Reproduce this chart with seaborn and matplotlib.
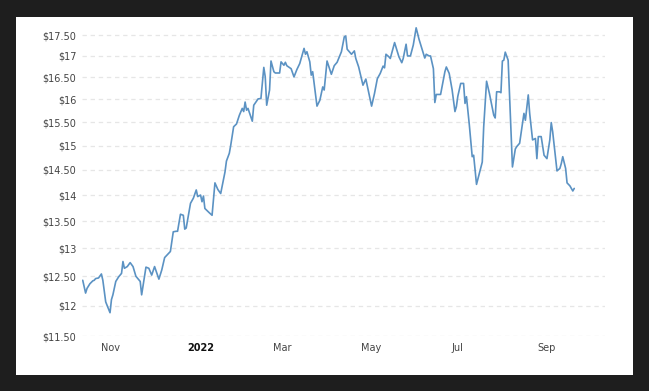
import datetime as dt
import matplotlib
matplotlib.use("Agg")
import matplotlib.pyplot as plt
import matplotlib.dates as mdates
from matplotlib.ticker import NullLocator
import pandas as pd
import seaborn as sns

dates = [
    "2021-10-13", "2021-10-15", "2021-10-16", "2021-10-18", "2021-10-20", "2021-10-21",
    "2021-10-22", "2021-10-24", "2021-10-26", "2021-10-27", "2021-10-29", "2021-11-01",
    "2021-11-02", "2021-11-03", "2021-11-05", "2021-11-07", "2021-11-09", "2021-11-10",
    "2021-11-11", "2021-11-13", "2021-11-15", "2021-11-17", "2021-11-19", "2021-11-22",
    "2021-11-23", "2021-11-26", "2021-11-28", "2021-11-30", "2021-12-02", "2021-12-05",
    "2021-12-07", "2021-12-09", "2021-12-13", "2021-12-15", "2021-12-17", "2021-12-18",
    "2021-12-20", "2021-12-22", "2021-12-23", "2021-12-24", "2021-12-27", "2021-12-29",
    "2021-12-31", "2022-01-01", "2022-01-03", "2022-01-04", "2022-01-05", "2022-01-06",
    "2022-01-09", "2022-01-11", "2022-01-13", "2022-01-15", "2022-01-17", "2022-01-20",
    "2022-01-21", "2022-01-23", "2022-01-24", "2022-01-26", "2022-01-28", "2022-01-30",
    "2022-02-01", "2022-02-02", "2022-02-03", "2022-02-04", "2022-02-05", "2022-02-08",
    "2022-02-09", "2022-02-12", "2022-02-14", "2022-02-16", "2022-02-17", "2022-02-18",
    "2022-02-20", "2022-02-21", "2022-02-23", "2022-02-24", "2022-02-27", "2022-02-28",
    "2022-03-02", "2022-03-03", "2022-03-04", "2022-03-07", "2022-03-09", "2022-03-11",
    "2022-03-13", "2022-03-16", "2022-03-17", "2022-03-18", "2022-03-20", "2022-03-21",
    "2022-03-22", "2022-03-25", "2022-03-27", "2022-03-29", "2022-03-30", "2022-04-01",
    "2022-04-04", "2022-04-06", "2022-04-08", "2022-04-11", "2022-04-13", "2022-04-14",
    "2022-04-15", "2022-04-18", "2022-04-20", "2022-04-21", "2022-04-23", "2022-04-26",
    "2022-04-28", "2022-05-02", "2022-05-04", "2022-05-06", "2022-05-08", "2022-05-10",
    "2022-05-11", "2022-05-12", "2022-05-14", "2022-05-15", "2022-05-18", "2022-05-21",
    "2022-05-23", "2022-05-24", "2022-05-26", "2022-05-27", "2022-05-29", "2022-05-31",
    "2022-06-02", "2022-06-04", "2022-06-07", "2022-06-08", "2022-06-09", "2022-06-11",
    "2022-06-12", "2022-06-14", "2022-06-15", "2022-06-16", "2022-06-19", "2022-06-22",
    "2022-06-23", "2022-06-25", "2022-06-27", "2022-06-29", "2022-06-30", "2022-07-01",
    "2022-07-03", "2022-07-05", "2022-07-06", "2022-07-07", "2022-07-09", "2022-07-11",
    "2022-07-12", "2022-07-14", "2022-07-18", "2022-07-19", "2022-07-21", "2022-07-23",
    "2022-07-26", "2022-07-27", "2022-07-28", "2022-07-30", "2022-07-31", "2022-08-01",
    "2022-08-02", "2022-08-03", "2022-08-05", "2022-08-08", "2022-08-10", "2022-08-11",
    "2022-08-13", "2022-08-14", "2022-08-16", "2022-08-17", "2022-08-19", "2022-08-20",
    "2022-08-22", "2022-08-24", "2022-08-25", "2022-08-26", "2022-08-28", "2022-08-30",
    "2022-09-01", "2022-09-03", "2022-09-04", "2022-09-05", "2022-09-08", "2022-09-10",
    "2022-09-11", "2022-09-12", "2022-09-14", "2022-09-15", "2022-09-17", "2022-09-19",
    "2022-09-20",
]

prices = [
    12.43, 12.21, 12.29, 12.37, 12.42, 12.43,
    12.46, 12.47, 12.54, 12.43, 12.06, 11.88,
    12.10, 12.18, 12.41, 12.49, 12.55, 12.76,
    12.64, 12.67, 12.74, 12.67, 12.50, 12.41,
    12.18, 12.66, 12.64, 12.52, 12.67, 12.45,
    12.61, 12.83, 12.94, 13.30, 13.31, 13.31,
    13.63, 13.61, 13.35, 13.37, 13.84, 13.94,
    14.10, 13.97, 14.00, 13.87, 13.98, 13.74,
    13.66, 13.61, 14.24, 14.11, 14.03, 14.46,
    14.68, 14.84, 15.01, 15.40, 15.46, 15.65,
    15.80, 15.73, 15.94, 15.76, 15.80, 15.52,
    15.87, 16.01, 16.02, 16.73, 16.51, 15.87,
    16.21, 16.88, 16.63, 16.60, 16.60, 16.86,
    16.78, 16.85, 16.77, 16.70, 16.51, 16.68,
    16.82, 17.18, 17.04, 17.10, 16.86, 16.55,
    16.63, 15.85, 15.98, 16.28, 16.21, 16.88,
    16.57, 16.77, 16.85, 17.10, 17.46, 17.48,
    17.16, 17.04, 17.12, 16.94, 16.74, 16.32,
    16.46, 15.85, 16.13, 16.47, 16.59, 16.76,
    16.72, 17.04, 16.98, 16.94, 17.32, 16.98,
    16.84, 16.94, 17.28, 17.00, 17.00, 17.26,
    17.68, 17.40, 17.06, 16.95, 17.04, 17.00,
    17.00, 16.70, 15.93, 16.11, 16.11, 16.63,
    16.74, 16.59, 16.22, 15.73, 15.84, 16.07,
    16.36, 16.36, 15.91, 16.06, 15.44, 14.77,
    14.80, 14.21, 14.66, 15.40, 16.41, 16.13,
    15.65, 15.59, 16.17, 16.17, 16.15, 16.88,
    16.90, 17.09, 16.90, 14.56, 14.93, 14.98,
    15.05, 15.26, 15.69, 15.54, 16.10, 15.69,
    15.12, 15.15, 14.73, 15.19, 15.19, 14.80,
    14.73, 15.12, 15.49, 15.29, 14.48, 14.53,
    14.63, 14.77, 14.53, 14.24, 14.18, 14.08,
    14.13,
]

ytick_values = [11.5, 12, 12.5, 13, 13.5, 14, 14.5, 15, 15.5, 16, 16.5, 17, 17.5]
ytick_labels = ["$11.50", "$12", "$12.50", "$13", "$13.50", "$14", "$14.50",
                "$15", "$15.50", "$16", "$16.50", "$17", "$17.50"]
# first trading day of each labelled month
xtick_dates = ["2021-11-01", "2022-01-03", "2022-03-01", "2022-05-02", "2022-07-01", "2022-09-01"]
xtick_labels = ["Nov", "2022", "Mar", "May", "Jul", "Sep"]

df = pd.DataFrame({"date": pd.to_datetime(dates), "price": prices})

sns.set_style("white")
plt.rcParams["font.family"] = ["DejaVu Sans"]

W, H = 649, 391
fig = plt.figure(figsize=(W / 100, H / 100), dpi=100, facecolor="#1e1e1e")

# white card behind the chart
bg = fig.add_axes([16 / W, 1 - 375 / H, (633 - 16) / W, (375 - 17) / H], zorder=-5)
bg.set_facecolor("white")
bg.set_xticks([])
bg.set_yticks([])
for s in bg.spines.values():
    s.set_visible(False)

ax = fig.add_axes([82 / W, 1 - 336 / H, (605 - 82) / W, (336 - 25) / H], zorder=1)
ax.set_facecolor("none")

sns.lineplot(data=df, x="date", y="price", ax=ax, estimator=None, sort=False,
             color="#5b92c3", linewidth=1.2)

ax.set_yscale("log")
ax.set_ylim(11.5, 17.75)
base = mdates.date2num(dt.datetime(2021, 11, 1))
ax.set_xlim(base - 19.5, base + 344.4)

ax.set_yticks(ytick_values)
ax.set_yticklabels(ytick_labels)
ax.yaxis.set_minor_locator(NullLocator())
ax.set_xticks(mdates.date2num(pd.to_datetime(xtick_dates)))
ax.set_xticklabels(xtick_labels)
ax.xaxis.set_minor_locator(NullLocator())

ax.tick_params(axis="both", length=0, labelsize=7, labelcolor="#444444")
ax.tick_params(axis="y", pad=4)
ax.tick_params(axis="x", pad=5)
for lab in ax.get_xticklabels():
    if lab.get_text() == "2022":
        lab.set_fontweight("bold")
        lab.set_color("#111111")

ax.grid(False)
ax.yaxis.grid(True, color="#e6e6e6", linestyle=(0, (3.5, 3)), linewidth=0.9)
ax.set_axisbelow(True)
for s in ax.spines.values():
    s.set_visible(False)
ax.set_xlabel("")
ax.set_ylabel("")

fig.savefig("out.png", dpi=100, facecolor=fig.get_facecolor())
